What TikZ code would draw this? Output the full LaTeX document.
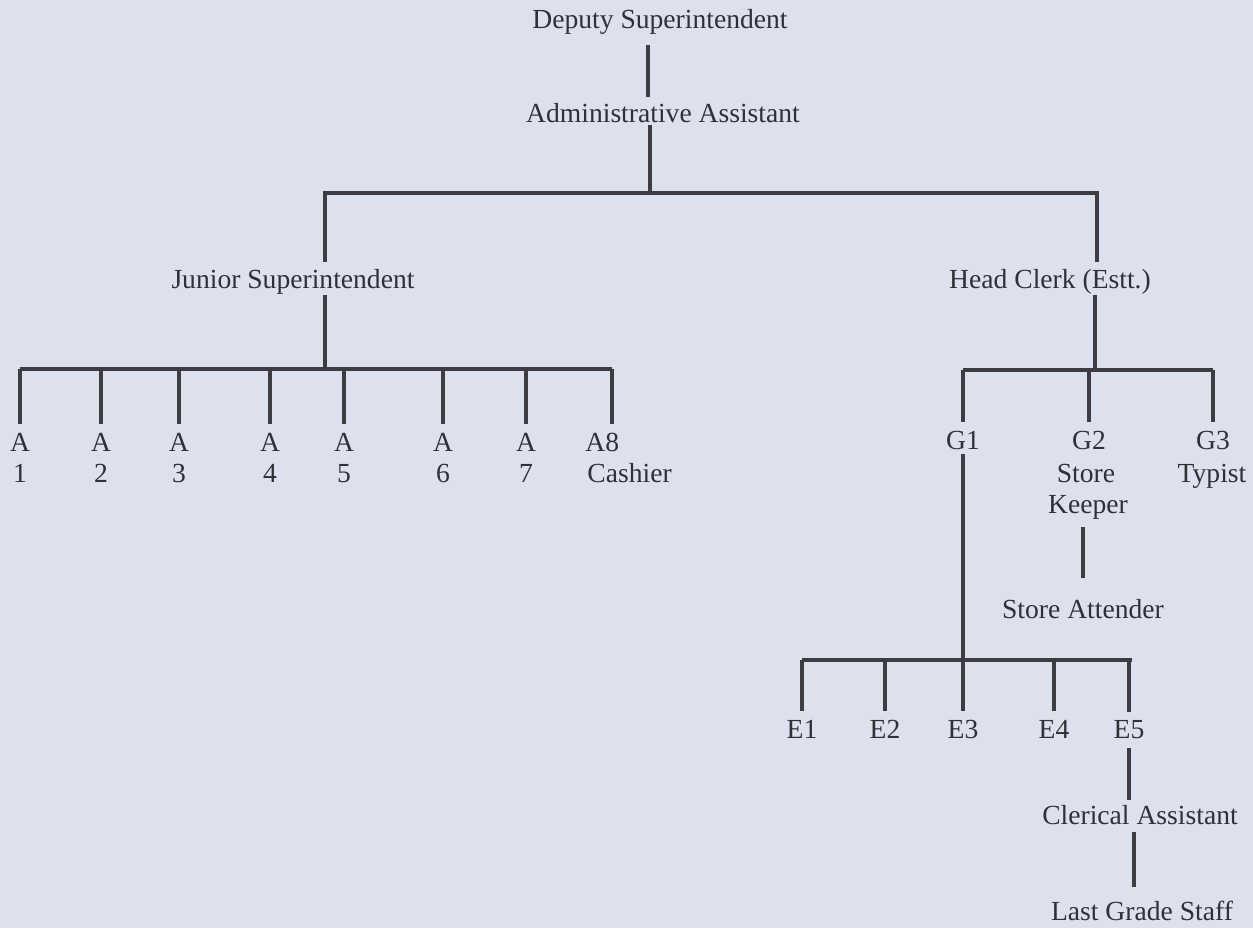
\documentclass[tikz,border=0pt]{standalone}
\usepackage{fontspec}
\setmainfont{Liberation Serif}
\usetikzlibrary{positioning}
\definecolor{paper}{RGB}{221,225,238}
\definecolor{ink}{RGB}{48,48,54}
\definecolor{rule}{RGB}{60,60,66}

\begin{document}
\begin{tikzpicture}[
    x=0.5pt, y=-0.5pt,
    post/.style={inner sep=0pt, text=ink, font=\fontsize{13.8}{16}\selectfont, anchor=base},
    link/.style={draw=rule, line width=1.6pt}
]

% === Paper ===
\fill[paper] (0,0) rectangle (1253,928);

% === Upper posts ===
\node[post] (ds) at (660,28) {Deputy Superintendent};
\node[post] (aa) at (663,122) {Administrative Assistant};
\node[post] (js) at (293,288) {Junior Superintendent};
\node[post] (hc) at (1050,288) {Head Clerk (Estt.)};

% junction points
\coordinate (ds-out) at (648,45);
\coordinate (aa-in) at (648,97);
\coordinate (aa-out) at (650,125);
\coordinate (top-j) at (650,193);
\coordinate (js-j) at (325,193);
\coordinate (hc-j) at (1097,193);
\coordinate (js-in) at (325,262);
\coordinate (hc-in) at (1097,262);
\coordinate (js-out) at (325,295);
\coordinate (js-bar) at (325,369);
\coordinate (hc-out) at (1095,295);
\coordinate (hc-bar) at (1095,370);

\draw[link] (ds-out) -- (aa-in);
\draw[link] (aa-out) -- (top-j);
\draw[link] (js-in) -- (js-j) -- (hc-j) -- (hc-in);
\draw[link] (js-out) -- (js-bar);
\draw[link] (hc-out) -- (hc-bar);

% === Junior Superintendent's section ===
\foreach \x/\n in {20/1,101/2,179/3,270/4,344/5,443/6,526/7} {
  \node[post] (a\n) at (\x,451) {A};
  \node[post] (n\n) at (\x,482) {\n};
  \draw[link] (a\n |- js-bar) -- ([yshift=4pt]a\n.north);
}
\node[post, anchor=base west] (a8) at (585,451) {A8};
\node[post, anchor=base west] (cash) at (587,482) {Cashier};
\coordinate (a8-j) at (612,369);
\draw[link] (a1 |- js-bar) -- (a8-j);
\draw[link] (a8-j) -- ([yshift=4pt]a8-j |- a1.north);

% === Head Clerk's section ===
\node[post] (g1) at (963,449) {G1};
\node[post] (g2) at (1089,449) {G2};
\node[post] (g3) at (1213,449) {G3};
\node[post] (store) at (1086,482) {Store};
\node[post] (keeper) at (1088,513) {Keeper};
\node[post] (typist) at (1212,482) {Typist};
\node[post] (sa) at (1083,618) {Store Attender};

\draw[link] (g1 |- hc-bar) -- (g3 |- hc-bar);
\foreach \g in {g1,g2,g3}
  \draw[link] (\g |- hc-bar) -- ([yshift=4pt]\g.north);
\draw[link] ([yshift=-4pt]sa.north |- keeper.south) -- ([yshift=10pt]sa.north);

% === E group under G1 ===
\coordinate (e-bar) at (963,660);
\coordinate (e-end) at (1132,660);
\foreach \x/\n in {802/1,885/2,963/3,1054/4,1129/5} {
  \node[post] (e\n) at (\x,738) {E\n};
  \draw[link] (e\n |- e-bar) -- ([yshift=4pt]e\n.north);
}
\draw[link] (e1 |- e-bar) -- (e-end);
\draw[link] ([yshift=-2pt]g1.south) -- (e-bar);

\node[post] (ca) at (1140,824) {Clerical Assistant};
\node[post] (lgs) at (1142,920) {Last Grade Staff};
\coordinate (ca-out) at (1134,832);
\coordinate (lgs-in) at (1134,887);

\draw[link] ([yshift=-4.5pt]e5.south) -- ([yshift=2pt]ca.north -| e5.south);
\draw[link] (ca-out) -- (lgs-in);

\end{tikzpicture}
\end{document}
